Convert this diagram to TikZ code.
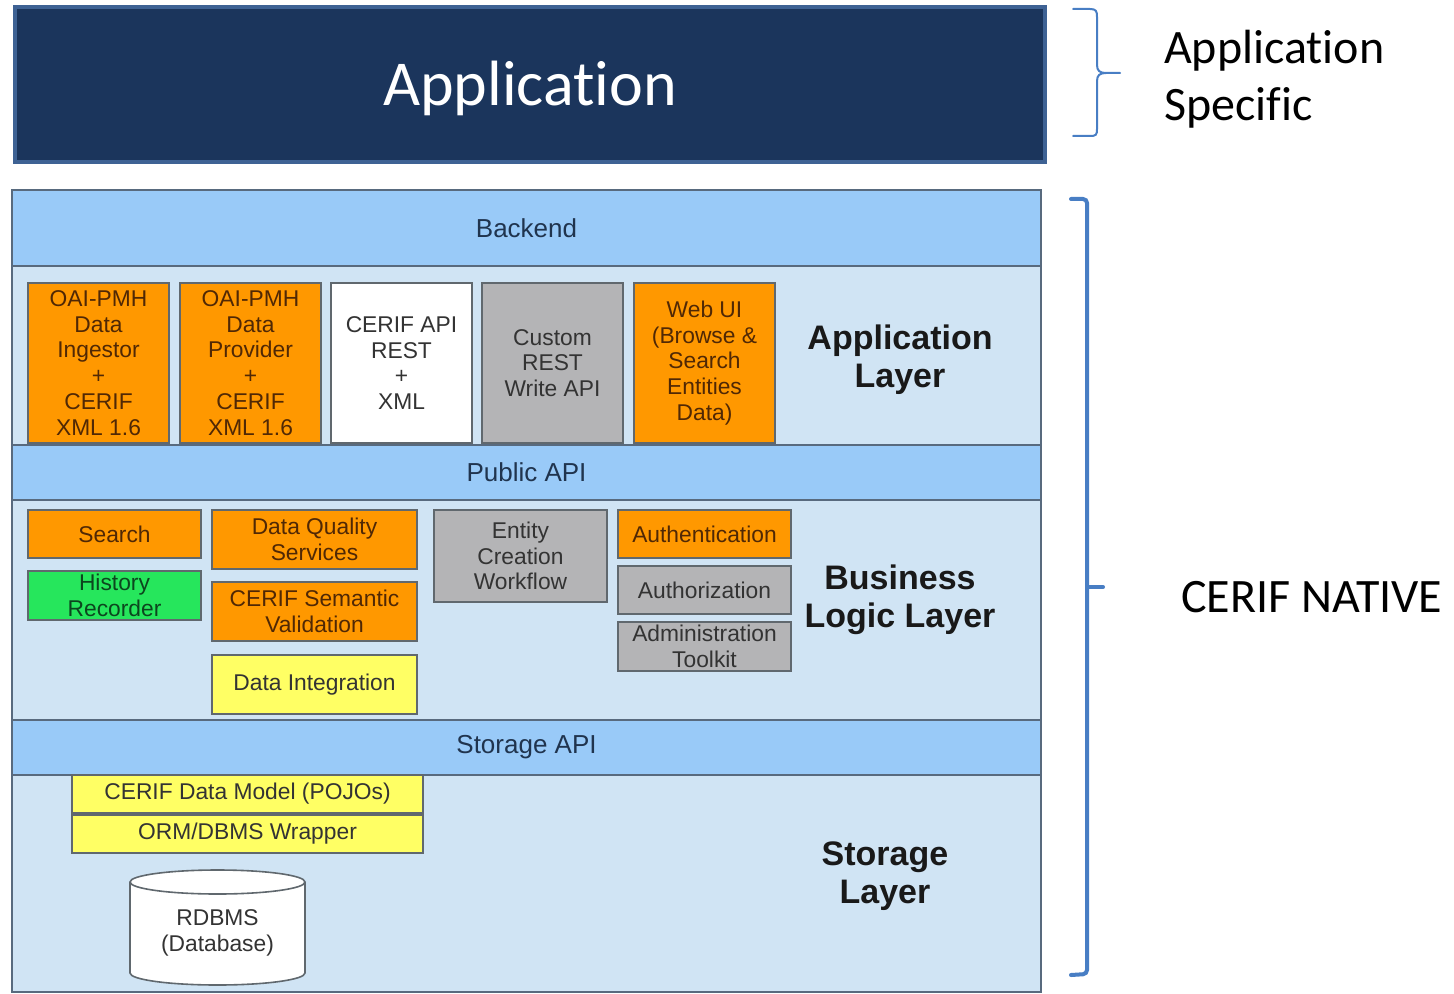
\documentclass[tikz,border=0pt]{standalone}
\usepackage{fontspec}
\setmainfont{Liberation Sans}
\newfontfamily\calibri[Ligatures=NoCommon]{Carlito}
\usetikzlibrary{positioning}

\definecolor{navy}{RGB}{27,53,92}
\definecolor{navyedge}{RGB}{62,98,148}
\definecolor{bandfill}{RGB}{153,202,248}
\definecolor{layerfill}{RGB}{208,228,244}
\definecolor{frameedge}{RGB}{88,106,126}
\definecolor{boxedge}{RGB}{96,104,110}
\definecolor{orangefill}{RGB}{255,152,0}
\definecolor{orangetext}{RGB}{80,40,5}
\definecolor{greyfill}{RGB}{180,180,182}
\definecolor{greenfill}{RGB}{38,230,92}
\definecolor{greentext}{RGB}{12,70,30}
\definecolor{yellowfill}{RGB}{255,255,100}
\definecolor{bandtext}{RGB}{32,52,78}
\definecolor{bracketblue}{RGB}{72,126,196}

\tikzset{
  box/.style={draw=boxedge, line width=1pt, align=center, inner sep=1pt,
              text=black!80, font=\fontsize{11.4}{12.9}\selectfont},
  orangebox/.style={box, fill=orangefill, text=orangetext},
  greybox/.style={box, fill=greyfill, text=black!80},
  whitebox/.style={box, fill=white},
  greenbox/.style={box, fill=greenfill, text=greentext},
  yellowbox/.style={box, fill=yellowfill},
  tall/.style={minimum width=70.5pt, minimum height=80pt},
  wide/.style={minimum width=86.5pt},
  band/.style={draw=frameedge, line width=1pt, fill=bandfill, text=bandtext,
               minimum width=514.5pt, minimum height=27.5pt,
               font=\fontsize{13}{15}\selectfont},
  layername/.style={align=center, text=black!90, font=\bfseries\fontsize{17}{19}\selectfont},
  bracket/.style={draw=bracketblue, line cap=round}
}

\begin{document}
\begin{tikzpicture}[x=0.5pt,y=-0.5pt]
\useasboundingbox (0,0) rectangle (1454,994);

% application specific block
\node[draw=navyedge, line width=2pt, fill=navy, text=white,
      minimum width=515pt, minimum height=77.5pt,
      font=\calibri\fontsize{32}{36}\selectfont] (app) at (530,84.5) {};
\node[text=white, font=\calibri\fontsize{32}{36}\selectfont] (apptext) at (530,88) {Application};

% CERIF stack: frame and API bands
\node[draw=frameedge, line width=1pt, fill=layerfill,
      minimum width=514.5pt, minimum height=401pt] (stack) at (526.5,591) {};
\node[band, minimum height=38pt] (backend) at (526.5,228)   {Backend};
\node[band]                      (pubapi)  at (526.5,472.5) {Public API};
\node[band]                      (storapi) at (526.5,747.5) {Storage API};

% application layer
\node[orangebox,tall] (ingest) at (98.5,363)  {OAI-PMH\\Data\\Ingestor\\+\\CERIF\\XML 1.6};
\node[orangebox,tall] (prov)   at (250.5,363) {OAI-PMH\\Data\\Provider\\+\\CERIF\\XML 1.6};
\node[whitebox,tall]  (rest)   at (401.5,363) {CERIF API\\REST\\+\\XML};
\node[greybox,tall]   (custom) at (552.5,363) {Custom\\REST\\Write API};
\node[orangebox,tall] (webui)  at (704.5,363) {Web UI\\(Browse \&\\Search\\Entities\\Data)};
\node[layername]      (applay) at (900,360)   {Application\\Layer};

% business logic layer
\node[orangebox,wide,minimum height=24pt]   (search)  at (114.5,534) {Search};
\node[greenbox,wide,minimum height=24.5pt]  (history) [below=5.5pt of search] {History\\Recorder};
\node[orangebox,minimum width=102.5pt,minimum height=29.5pt] (quality) at (314.5,539.5) {Data Quality\\Services};
\node[orangebox,minimum width=102.5pt,minimum height=29.5pt] (semval)  [below=5.5pt of quality] {CERIF Semantic\\Validation};
\node[yellowbox,minimum width=102.5pt,minimum height=29.5pt] (integr)  [below=6pt of semval] {Data Integration};
\node[greybox,wide,minimum height=46pt]     (entity)  at (520.5,556) {Entity\\Creation\\Workflow};
\node[orangebox,wide,minimum height=24pt]   (authn)   at (704.5,534) {Authentication};
\node[greybox,wide,minimum height=24pt]     (authz)   [below=3pt of authn] {Authorization};
\node[greybox,wide,minimum height=24.5pt]   (admin)   [below=3pt of authz] {Administration\\Toolkit};
\node[layername]      (bllay)  at (900,600)   {Business\\Logic Layer};

% storage layer
\node[yellowbox,minimum width=175.5pt,minimum height=19pt] (pojo) at (247.5,794) {CERIF Data Model (POJOs)};
\node[yellowbox,minimum width=175.5pt,minimum height=19pt] (orm)  [below=0pt of pojo] {ORM/DBMS Wrapper};
\draw[draw=boxedge, line width=0.8pt, fill=white]
  (130,882) -- (130,973) arc[start angle=180, end angle=360, x radius=43.75pt, y radius=6pt] -- (305,882);
\draw[draw=boxedge, line width=0.8pt, fill=white] (217.5,882) ellipse [x radius=43.75pt, y radius=6pt];
\node[align=center, text=black!80, font=\fontsize{11.4}{12.9}\selectfont] (rdbms) at (217.5,933) {RDBMS\\(Database)};
\node[layername]      (stlay)  at (885,876)   {Storage\\Layer};

% braces on the right
\draw[bracket, line width=1pt] (1073,9) -- (1090,9) .. controls (1096,9) and (1097,11) .. (1097,17)
  -- (1097,65) .. controls (1097,71) and (1100,73) .. (1106,73) -- (1120,73);
\draw[bracket, line width=1pt] (1106,73) .. controls (1100,73) and (1097,75) .. (1097,81)
  -- (1097,129) .. controls (1097,135) and (1096,136) .. (1090,136) -- (1073,136);
\draw[bracket, line width=2pt, rounded corners=2pt] (1071,199) -- (1087,199) -- (1087,974) -- (1071,975);
\draw[bracket, line width=2pt] (1087,587) -- (1103,587);

\node[anchor=west, align=left, font=\calibri\fontsize{24}{28.5}\selectfont] (appspec) at (1157,79) {Application\\Specific};
\node[anchor=west, font=\calibri\fontsize{24}{28}\selectfont] (native) at (1174,597) {CERIF NATIVE};
\end{tikzpicture}
\end{document}
